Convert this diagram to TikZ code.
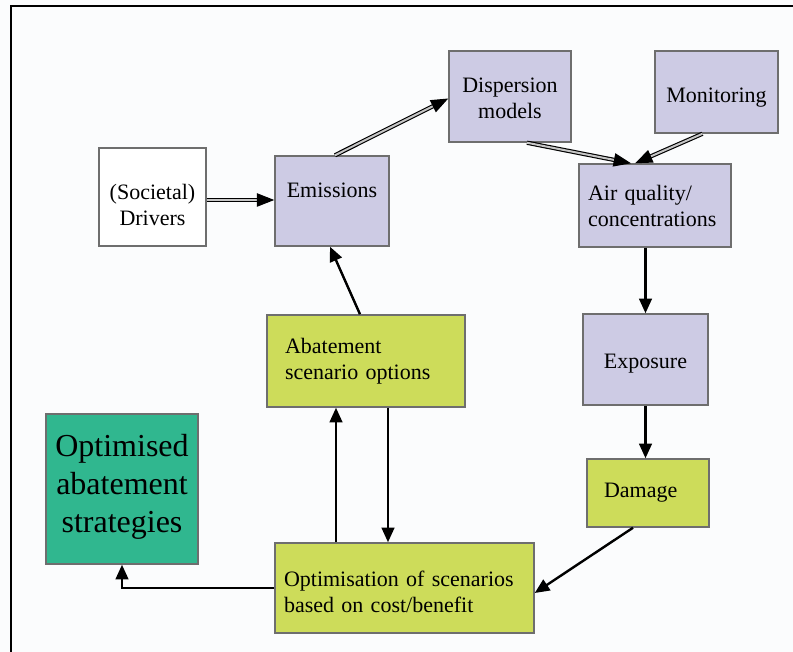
\documentclass[tikz,border=0pt]{standalone}
\usepackage{fontspec}
\setmainfont{Liberation Serif}
\usetikzlibrary{arrows.meta,calc}
\definecolor{lav}{RGB}{205,203,228}
\definecolor{ygreen}{RGB}{205,220,90}
\definecolor{teal2}{RGB}{48,183,143}
\definecolor{bggray}{RGB}{251,252,253}
\definecolor{edgegray}{RGB}{110,110,110}
\tikzset{
  box/.style={draw=edgegray, line width=1.1pt, inner sep=0pt, font=\fontsize{16.5}{19.5}\selectfont, align=center},
  lavbox/.style={box, fill=lav},
  grbox/.style={box, fill=ygreen},
  sgl/.style={line width=1.8pt, -{Triangle[length=11pt,width=9.5pt]}},
  dbl/.style={draw=black, line width=0.85pt, double=gray!45, double distance=1.5pt, -{Triangle[length=13pt,width=10pt]}},
}
\begin{document}
\begin{tikzpicture}[x=0.75pt,y=-0.75pt]
\fill[bggray] (0,0) rectangle (793,652);
\useasboundingbox (0,0) rectangle (793,652);
\draw[line width=1.6pt] (11,652) -- (11,6) -- (793,6);

\node[box, fill=white, minimum width=107*0.75pt, minimum height=98*0.75pt] (drv) at (152.5,197) {\rule{0pt}{24pt}(Societal)\\Drivers};
\node[lavbox, minimum width=114*0.75pt, minimum height=90*0.75pt] (emis) at (332,201) {Emissions\\[-4pt]};
\node[lavbox, minimum width=122*0.75pt, minimum height=91*0.75pt] (disp) at (510,96.5) {\rule{0pt}{14pt}Dispersion\\models};
\node[lavbox, minimum width=123*0.75pt, minimum height=82*0.75pt] (mon) at (716.5,92) {\rule{0pt}{19pt}Monitoring};
\node[lavbox, minimum width=152*0.75pt, minimum height=83*0.75pt, text width=134*0.75pt, align=left] (air) at (655,205.5) {Air quality/\\concentrations};
\node[lavbox, minimum width=125*0.75pt, minimum height=91*0.75pt] (expo) at (645.5,359.5) {\rule{0pt}{17pt}Exposure};
\node[grbox, minimum width=122*0.75pt, minimum height=68*0.75pt, text width=88*0.75pt, align=left] (dam) at (648,493) {Damage};
\node[grbox, minimum width=198*0.75pt, minimum height=92*0.75pt, text width=162*0.75pt, align=left] (abat) at (366,361) {Abatement\\scenario options};
\node[grbox, minimum width=259*0.75pt, minimum height=90*0.75pt, text width=241*0.75pt, align=left] (opt) at (404.5,588) {\rule{0pt}{17pt}Optimisation of scenarios\\based on cost/benefit};
\node[box, fill=teal2, minimum width=152*0.75pt, minimum height=150*0.75pt, font=\fontsize{24}{28.5}\selectfont] (optd) at (122,489) {Optimised\\abatement\\strategies\\[-20pt]};

\coordinate (up) at ($(opt.north)+(-68.5,0)$);
\coordinate (dn) at ($(abat.south)+(22,0)$);

\draw[dbl] ($(drv.east)+(0,3)$) -- ($(emis.west)+(0,-1)$);
\draw[dbl] ($(emis.north)+(3,0)$) -- ($(disp.west)+(0,2)$);
\draw[dbl] ($(disp.south)+(17,0)$) -- ($(air.north)+(-24,0)$);
\draw[dbl] ($(mon.south)+(-14,0)$) -- ($(air.north)+(-20,0)$);
\draw[sgl] (expo.north |- air.south) -- (expo.north);
\draw[sgl] (expo.south) -- (expo.south |- dam.north);
\draw[sgl] ($(dam.south)+(-15,0)$) -- ($(opt.east)+(0,5)$);
\draw[sgl] ($(abat.north)+(-6,0)$) -- ($(emis.south)+(-2,0)$);
\draw[sgl] (up) -- (up |- abat.south);
\draw[sgl] (dn) -- (dn |- opt.north);
\draw[sgl] (opt.west) -| (optd.south);
\end{tikzpicture}
\end{document}
